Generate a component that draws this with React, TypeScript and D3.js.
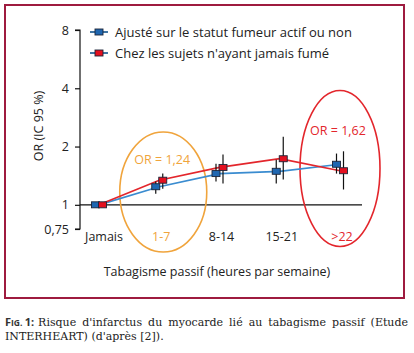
import React, { useEffect, useRef } from 'react';
import * as d3 from 'd3';

// Tabagisme passif (heures par semaine)
const categories = ['Jamais', '1-7', '8-14', '15-21', '>22'];

// OR ajusté sur le statut fumeur actif ou non
const adjustedOR = [1.0, 1.24, 1.45, 1.49, 1.62];
const adjustedLow = [1.0, 1.14, 1.32, 1.29, 1.45];
const adjustedHigh = [1.0, 1.32, 1.63, 1.71, 1.84];

// OR chez les sujets n'ayant jamais fumé
const neverOR = [1.0, 1.34, 1.56, 1.73, 1.5];
const neverLow = [1.0, 1.21, 1.29, 1.35, 1.2];
const neverHigh = [1.0, 1.45, 1.82, 2.25, 1.89];

const yTicks = [0.75, 1, 2, 4, 8];
const yTickLabels = ['0,75', '1', '2', '4', '8'];
const seriesNames = ['Ajusté sur le statut fumeur actif ou non', "Chez les sujets n'ayant jamais fumé"];

const W = 414;
const H = 353;
const FONT = 'Open Sans, Lato, sans-serif';
const SERIF = 'DejaVu Serif, serif';
const FRAME = '#9e1b3f';
const BLUE = '#1f67b1';
const BLUE_LINE = '#3a8cd0';
const RED = '#e4101f';
const RED_LINE = '#e3262c';
const ORANGE = '#f0a43c';

const App = () => {
  const ref = useRef<SVGSVGElement>(null);

  useEffect(() => {
    const svg = d3.select(ref.current);
    svg.selectAll('*').remove();

    const x = d3.scalePoint().domain(categories).range([99, 340]);
    const y = d3.scaleLog().domain([0.75, 8]).range([229, 30]);
    const off = 3.5;

    svg.append('rect').attr('width', W).attr('height', H).attr('fill', '#fff');

    // cadre
    svg.append('rect')
      .attr('x', 5).attr('y', 5).attr('width', 399).attr('height', 293)
      .attr('fill', 'none').attr('stroke', FRAME).attr('stroke-width', 2);

    // axe Y
    const yAxis = d3.axisLeft(y)
      .tickValues(yTicks)
      .tickFormat((d, i) => yTickLabels[i])
      .tickSize(5)
      .tickPadding(6);
    const gy = svg.append('g').attr('transform', 'translate(80,0)').call(yAxis);
    gy.select('.domain').attr('stroke', '#111').attr('stroke-width', 1.2).attr('d', `M-5,${y(0.75)}H0V${y(8)}H-5`);
    gy.selectAll('.tick line').attr('stroke', '#111').attr('stroke-width', 1.2);
    gy.selectAll('.tick text').attr('font-family', FONT).attr('font-size', 12.5).attr('fill', '#222');

    // ligne OR = 1
    svg.append('line')
      .attr('x1', 80).attr('x2', 362).attr('y1', y(1)).attr('y2', y(1))
      .attr('stroke', '#111').attr('stroke-width', 1.2);

    // ellipses
    svg.append('ellipse')
      .attr('cx', (x('1-7') as number) + 4).attr('cy', 192).attr('rx', 43.5).attr('ry', 60)
      .attr('fill', 'none').attr('stroke', ORANGE).attr('stroke-width', 1.6);
    svg.append('ellipse')
      .attr('cx', x('>22') as number).attr('cy', 168.5).attr('rx', 40).attr('ry', 78)
      .attr('fill', 'none').attr('stroke', RED_LINE).attr('stroke-width', 1.6);

    svg.append('text')
      .attr('x', (x('1-7') as number) + 3).attr('y', 164)
      .attr('text-anchor', 'middle').attr('font-family', FONT).attr('font-size', 12.5)
      .attr('fill', ORANGE).text('OR = 1,24');
    svg.append('text')
      .attr('x', (x('>22') as number) - 2).attr('y', 135)
      .attr('text-anchor', 'middle').attr('font-family', FONT).attr('font-size', 12.5)
      .attr('fill', RED_LINE).text('OR = 1,62');

    // catégories
    const labelColor = ['#222', ORANGE, '#222', '#222', RED_LINE];
    svg.append('g').selectAll('text')
      .data(categories)
      .join('text')
      .attr('x', (d, i) => (x(d) as number) + (i === 0 ? 5 : 2))
      .attr('y', 241)
      .attr('text-anchor', 'middle')
      .attr('font-family', FONT).attr('font-size', 12.5)
      .attr('fill', (d, i) => labelColor[i])
      .text((d) => d);

    // titres des axes
    svg.append('text')
      .attr('x', 217).attr('y', 276)
      .attr('text-anchor', 'middle').attr('font-family', FONT).attr('font-size', 12.5)
      .attr('fill', '#222').text('Tabagisme passif (heures par semaine)');
    svg.append('text')
      .attr('transform', 'translate(43,126) rotate(-90)')
      .attr('text-anchor', 'middle').attr('font-family', FONT).attr('font-size', 12.5)
      .attr('fill', '#222').text('OR (IC 95 %)');

    const series = [
      { vals: adjustedOR, lo: adjustedLow, hi: adjustedHigh, fill: BLUE, line: BLUE_LINE, dx: -off },
      { vals: neverOR, lo: neverLow, hi: neverHigh, fill: RED, line: RED_LINE, dx: off },
    ];

    const line = d3.line<number>()
      .x((d, i) => (x(categories[i]) as number))
      .y((d) => y(d));

    series.forEach((s) => {
      svg.append('path')
        .attr('d', line(s.vals))
        .attr('fill', 'none').attr('stroke', s.line).attr('stroke-width', 1.7);
    });

    series.forEach((s) => {
      svg.append('g').selectAll('line')
        .data(categories.slice(1))
        .join('line')
        .attr('x1', (d) => (x(d) as number) + s.dx)
        .attr('x2', (d) => (x(d) as number) + s.dx)
        .attr('y1', (d, i) => y(s.lo[i + 1]))
        .attr('y2', (d, i) => y(s.hi[i + 1]))
        .attr('stroke', '#111').attr('stroke-width', 1.2);
    });

    series.forEach((s) => {
      svg.append('g').selectAll('rect')
        .data(categories)
        .join('rect')
        .attr('x', (d) => (x(d) as number) + s.dx - 4)
        .attr('y', (d, i) => y(s.vals[i]) - 3)
        .attr('width', 8).attr('height', 6)
        .attr('fill', s.fill).attr('stroke', '#1b2438').attr('stroke-width', 0.9);
    });

    // légende
    const leg = svg.append('g');
    series.forEach((s, i) => {
      const ly = 32 + i * 21;
      leg.append('line').attr('x1', 90).attr('x2', 108).attr('y1', ly).attr('y2', ly)
        .attr('stroke', '#1d5d93').attr('stroke-width', 1.7);
      leg.append('rect').attr('x', 95).attr('y', ly - 3).attr('width', 8).attr('height', 6)
        .attr('fill', s.fill).attr('stroke', '#1b2438').attr('stroke-width', 0.9);
      leg.append('text').attr('x', 115).attr('y', ly + 5)
        .attr('font-family', FONT).attr('font-size', 13).attr('fill', '#222')
        .text(seriesNames[i]);
    });

    // légende de la figure
    const cap = svg.append('g');
    const fig = cap.append('text').attr('x', 5).attr('y', 326)
      .attr('font-family', FONT).attr('font-weight', 'bold').attr('fill', '#333');
    fig.append('tspan').attr('font-size', 11).text('F');
    fig.append('tspan').attr('font-size', 8.5).text('IG. ');
    fig.append('tspan').attr('font-size', 11).text('1:');
    const figW = (fig.node() as SVGTextElement).getComputedTextLength();

    const line1 = "Risque d'infarctus du myocarde lié au tabagisme passif (Etude";
    const t1 = cap.append('text').attr('x', 5 + figW + 4).attr('y', 326)
      .attr('font-family', SERIF).attr('font-size', 11).attr('fill', '#222')
      .text(line1);
    const natural = (t1.node() as SVGTextElement).getComputedTextLength();
    const target = 408 - (5 + figW + 4);
    const spaces = line1.split(' ').length - 1;
    t1.attr('word-spacing', (target - natural) / spaces);

    cap.append('text').attr('x', 5).attr('y', 340)
      .attr('font-family', SERIF).attr('font-size', 11).attr('fill', '#222')
      .text("INTERHEART) (d'après [2]).");
  }, []);

  return (
    <svg
      ref={ref}
      width={W}
      height={H}
      style={{ position: 'absolute', left: 0, top: 0, display: 'block' }}
    />
  );
};

export default App;
